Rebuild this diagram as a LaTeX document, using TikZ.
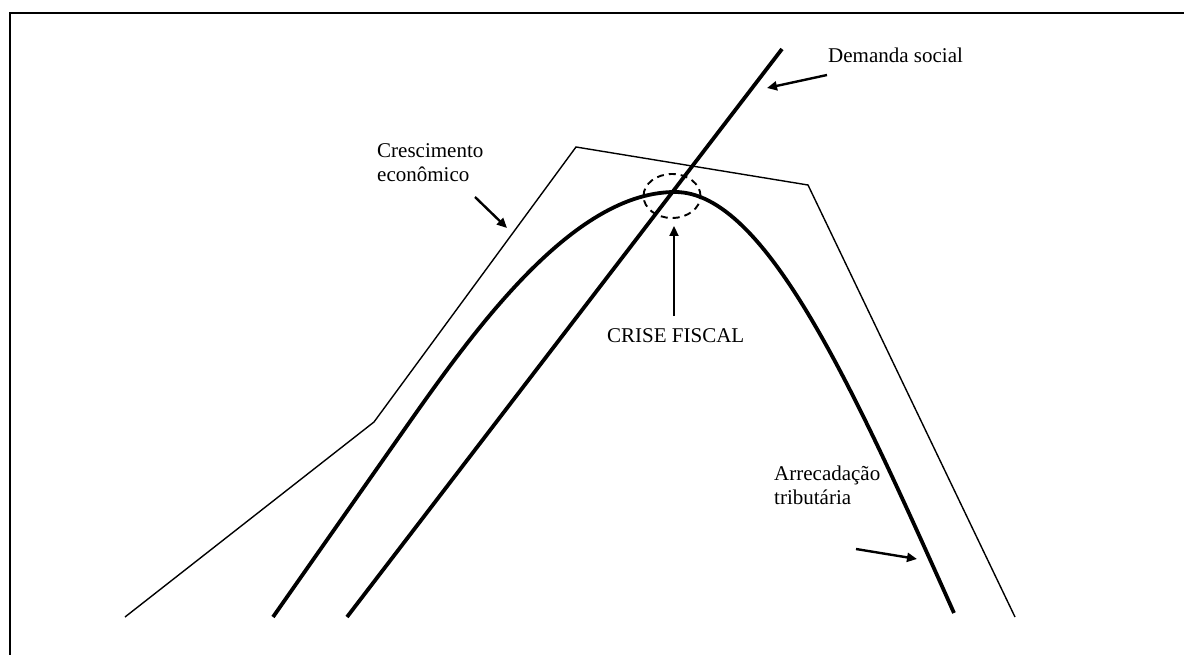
\documentclass[tikz,border=0pt]{standalone}
\usepackage{fontspec}
\setmainfont{Liberation Serif}
\usetikzlibrary{arrows.meta,shapes.geometric}
\begin{document}
\begin{tikzpicture}[x=1pt,y=-1pt,
  thinline/.style={line width=1.4pt,line join=miter},
  thickcurve/.style={line width=3.8pt},
  pointer/.style={line width=2.4pt,-{Triangle[length=10pt,width=9pt]}},
  lbl/.style={font=\fontsize{21}{24}\selectfont,inner sep=0pt,align=left}]
\useasboundingbox (0,0) rectangle (1184,655);
\clip (0,0) rectangle (1184,655);
% frame
\draw[line width=2.4pt] (10,13) rectangle (1220,700);
% economic growth (thin polyline)
\draw[thinline] (125,617) -- (374,422) -- (576,147) -- (808,185) -- (1015,617);
% social demand (straight thick line)
\draw[thickcurve] (347,617) -- (782,49);
% tax revenue (thick curve)
\draw[thickcurve] (273,617) -- (390,450)
  .. controls (459,352) and (565,192) .. (675,192)
  .. controls (765,192) and (852,385) .. (954,613);
% dashed ellipse
\node[draw,dash pattern=on 7pt off 5pt,line width=1.9pt,ellipse,minimum width=57pt,minimum height=44pt,inner sep=0pt] (focus) at (672,196) {};
% labels
\node[lbl,anchor=base west] (demanda) at (828,63) {Demanda social};
\node[lbl,anchor=north west] (cresc) at (377,143) {Crescimento\\econômico};
\node[lbl,anchor=base west] (crise) at (607,342) {CRISE FISCAL};
\node[lbl,anchor=north west] (arrec) at (774,466) {Arrecadação\\tributária};
% pointer arrows
\coordinate (d1) at (827,75);  \coordinate (d2) at (767,88);
\coordinate (c1) at (475,197); \coordinate (c2) at (507,228);
\coordinate (a1) at (856,549); \coordinate (a2) at (917,559);
\coordinate (f1) at (674,316); \coordinate (f2) at (674,226);
\draw[pointer] (d1) -- (d2);
\draw[pointer] (c1) -- (c2);
\draw[pointer] (a1) -- (a2);
\draw[pointer,line width=2.2pt] (f1) -- (f2);
\end{tikzpicture}
\end{document}
